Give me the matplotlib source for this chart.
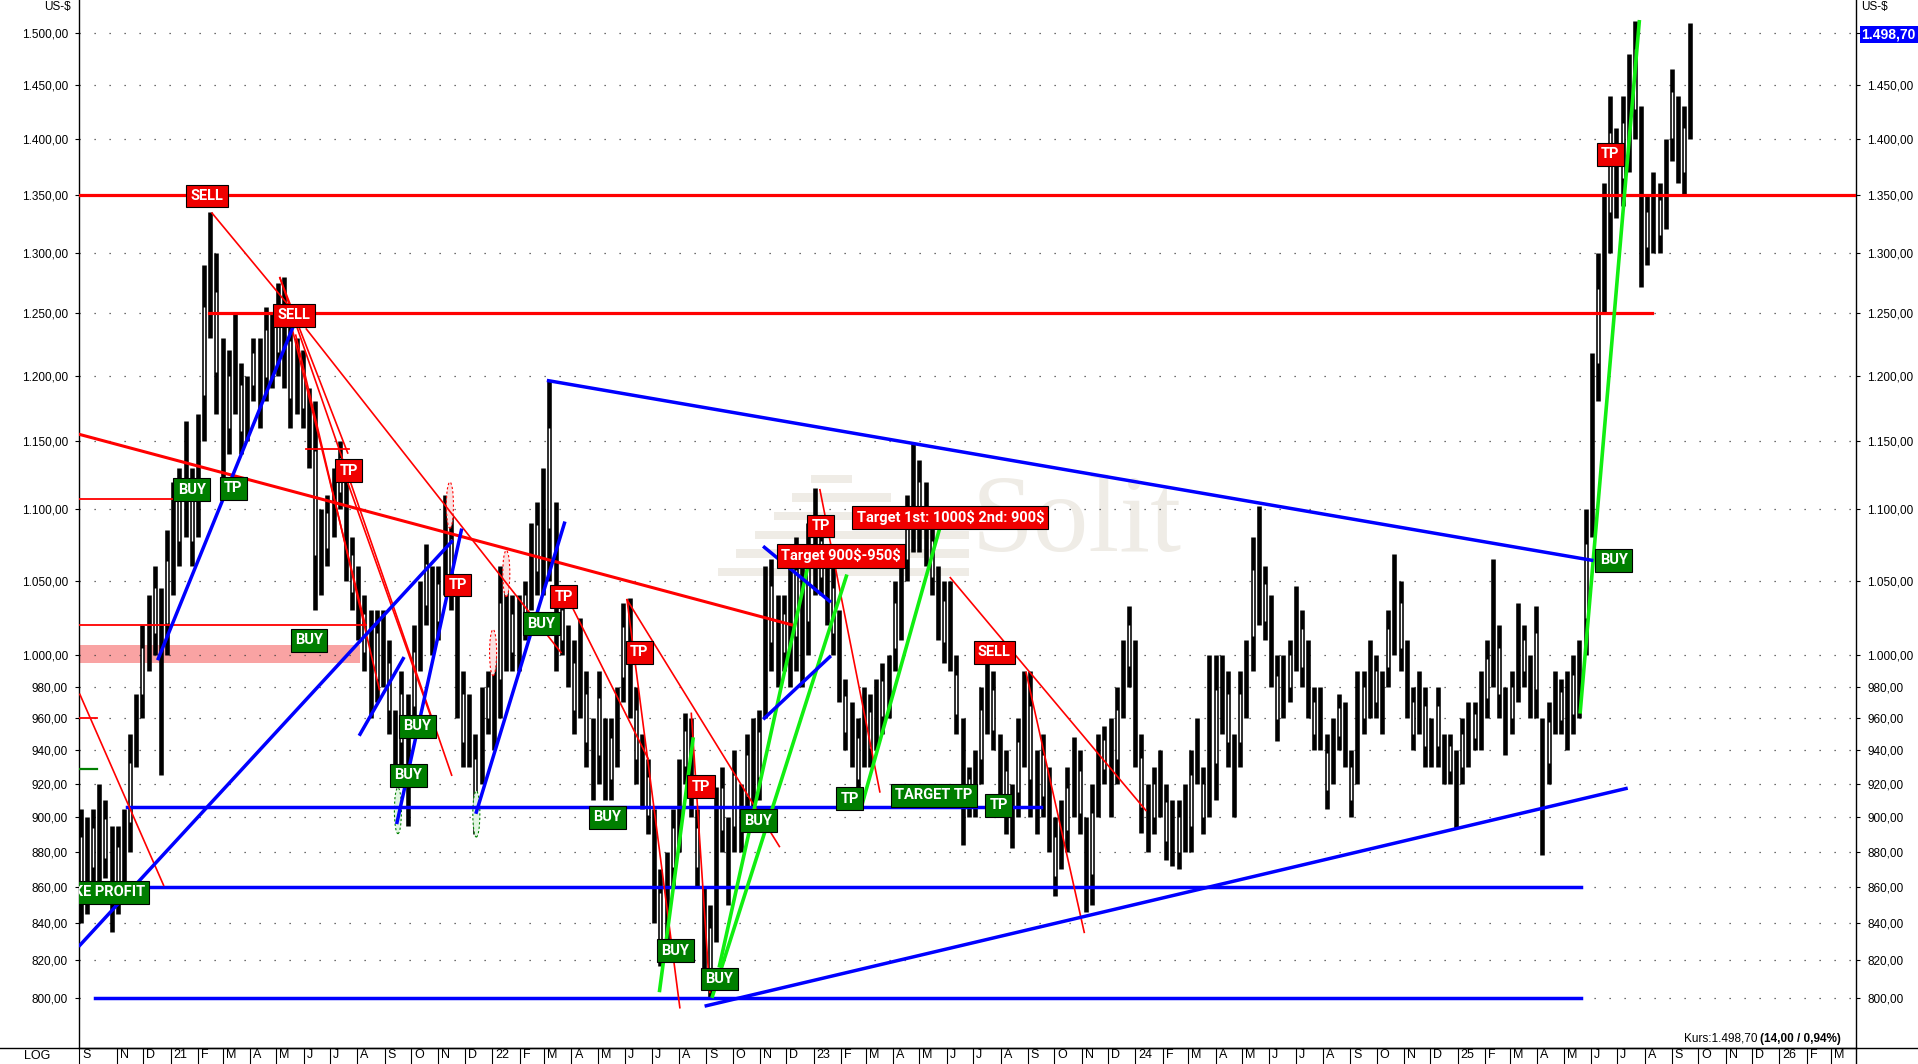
import numpy as np
import pandas as pd
import matplotlib
matplotlib.use("Agg")
import matplotlib.pyplot as plt
from matplotlib.lines import Line2D
from matplotlib.patches import Ellipse
import matplotlib.dates as mdates
from matplotlib.ticker import NullLocator
from matplotlib.transforms import ScaledTranslation

plt.rcParams['font.family'] = ['Liberation Sans', 'DejaVu Sans']

# weekly low / high in US-$, weeks starting Monday 2020-09-21
low_2020 = [840, 845, 860, 860, 865, 835, 845, 860, 880, 930, 960, 990, 1000, 925, 1000]
high_2020 = [905, 900, 905, 920, 910, 895, 895, 905, 950, 975, 1020, 1040, 1060, 1045, 1085]

low_2021 = [1040, 1060, 1080, 1060,
            1080, 1150, 1230, 1170,
            1120, 1140, 1170, 1140, 1150,
            1180, 1160, 1180, 1190,
            1200, 1190, 1160, 1170, 1160,
            1130, 1030, 1040, 1060,
            1080, 1100, 1050, 1030,
            1010, 990, 960, 970, 980,
            950, 920, 930, 895,
            950, 990, 1020, 1000,
            1010, 1040, 1030, 960, 930,
            930, 890, 920, 950]
high_2021 = [1120, 1130, 1165, 1130,
             1170, 1290, 1335, 1300,
             1230, 1220, 1250, 1210, 1200,
             1230, 1230, 1255, 1250,
             1275, 1280, 1250, 1230, 1220,
             1190, 1180, 1100, 1110,
             1130, 1150, 1120, 1080,
             1060, 1040, 1030, 1030, 1030,
             1010, 965, 990, 975,
             1020, 1050, 1075, 1060,
             1060, 1110, 1095, 1040, 990,
             975, 950, 980, 990]

low_2022 = [940, 960, 990, 990, 990,
            1010, 1030, 1040, 1040,
            1050, 990, 1000, 980,
            950, 960, 930, 910,
            920, 910, 910, 930, 970,
            960, 920, 905, 890,
            840, 817, 830, 860,
            880, 920, 900, 860, 810,
            800, 830, 880, 850,
            880, 880, 900, 900, 910,
            960, 990, 980, 990,
            980, 990, 980, 1000]
high_2022 = [1000, 1060, 1050, 1040, 1040,
             1050, 1090, 1105, 1130,
             1196, 1105, 1040, 1020,
             1010, 1025, 990, 960,
             990, 960, 960, 980, 1035,
             1038, 980, 950, 935,
             905, 870, 880, 905,
             935, 963, 960, 905, 860,
             850, 918, 930, 900,
             940, 920, 950, 960, 965,
             1060, 1065, 1040, 1040,
             1060, 1080, 1060, 1090]

low_2023 = [1040, 1040, 1020, 1000, 970,
            940, 930, 910, 930,
            930, 940, 950, 960,
            990, 1010, 1050, 1070,
            1070, 1060, 1040, 1010, 995,
            990, 950, 884, 900,
            900, 920, 950, 940, 900,
            890, 882, 900, 930,
            900, 890, 900, 880,
            855, 870, 880, 900, 890,
            846, 850, 900, 920,
            900, 920, 960, 980]
high_2023 = [1115, 1090, 1070, 1060, 1030,
             985, 970, 960, 980,
             975, 985, 995, 1000,
             1050, 1070, 1110, 1148,
             1136, 1120, 1090, 1060, 1050,
             1050, 1000, 960, 930,
             940, 980, 1000, 990, 950,
             940, 920, 960, 990,
             990, 940, 950, 930,
             900, 910, 930, 948, 940,
             900, 920, 950, 955,
             960, 980, 1010, 1033]

low_2024 = [930, 891, 880, 890, 900,
            875, 872, 870, 880,
            880, 920, 890, 900,
            910, 950, 930, 900, 930,
            960, 990, 1020, 1010,
            980, 946, 960, 970,
            990, 980, 960, 940, 940,
            905, 920, 940, 930,
            900, 920, 950, 960, 960,
            950, 980, 1000, 990,
            960, 940, 950, 930,
            930, 930, 920, 920, 894]
high_2024 = [1010, 950, 920, 930, 940,
             920, 910, 910, 920,
             940, 960, 930, 1000,
             1000, 1000, 990, 950, 990,
             1010, 1080, 1102, 1060,
             1040, 1000, 1000, 1010,
             1046, 1030, 1010, 980, 980,
             950, 960, 975, 970,
             940, 990, 990, 1010, 1000,
             990, 1030, 1068, 1050,
             1010, 980, 990, 980,
             960, 980, 950, 950, 940]

low_2025 = [920, 930, 940, 940,
            960, 980, 960, 937,
            950, 970, 980, 960, 960,
            878, 920, 950, 950,
            940, 950, 960, 1000,
            1080, 1180, 1250, 1300, 1330,
            1340, 1370, 1400, 1271,
            1290, 1300, 1300, 1320,
            1380, 1360, 1350, 1400]
high_2025 = [960, 970, 970, 990,
             1010, 1065, 1020, 980,
             990, 1035, 1020, 1000, 1033,
             960, 970, 990, 985,
             990, 1000, 1010, 1100,
             1218, 1300, 1360, 1440, 1410,
             1440, 1480, 1512, 1430,
             1350, 1370, 1360, 1400,
             1465, 1440, 1430, 1510]

last_close = 1498.70
change_abs = 14.00
change_pct = 0.94

price_ticks = [800, 820, 840, 860, 880, 900, 920, 940, 960, 980, 1000,
               1050, 1100, 1150, 1200, 1250, 1300, 1350, 1400, 1450, 1500]

# horizontal levels: price, from, to
red_thick_levels = [1350, 1250]
red_thick_from = ['2020-09-19', '2021-02-14']
red_thick_to = ['2026-03-29', '2025-08-10']
red_thin_levels = [1107, 1020, 1144, 960]
red_thin_from = ['2020-09-19', '2020-09-19', '2021-06-04', '2020-09-19']
red_thin_to = ['2021-01-05', '2021-08-11', '2021-07-23', '2020-10-09']
blue_levels = [906, 860, 800]
blue_from = ['2020-11-13', '2020-09-19', '2020-10-07']
blue_to = ['2023-09-16', '2025-05-21', '2025-05-21']
green_levels = [929]
green_from = ['2020-09-19']
green_to = ['2020-10-09']
zone_low, zone_high = 995, 1007
zone_to = '2021-08-04'

# trend lines: (date, price) -> (date, price)
blue_trends = [('2022-03-06', 1196, '2025-06-02', 1064),
               ('2022-09-01', 796, '2025-07-11', 917),
               ('2020-09-20', 828, '2021-11-16', 1077),
               ('2020-12-18', 998, '2021-05-19', 1237),
               ('2021-08-04', 950, '2021-09-22', 998),
               ('2021-09-15', 897, '2021-11-27', 1085),
               ('2021-12-14', 903, '2022-03-24', 1090),
               ('2022-11-06', 1073, '2023-01-19', 1036),
               ('2022-11-06', 960, '2023-01-19', 999)]
green_trends = [('2022-07-10', 804, '2022-08-17', 947),
                ('2022-09-16', 817, '2022-12-25', 1059),
                ('2022-09-08', 801, '2023-02-07', 1053),
                ('2023-02-24', 906, '2023-05-26', 1091),
                ('2025-05-20', 964, '2025-07-26', 1511)]
red_thick_trends = [('2020-09-19', 1155, '2022-12-08', 1020)]
red_thin_trends = [('2020-09-20', 975, '2020-12-24', 861),
                   ('2021-02-17', 1334, '2021-05-15', 1256),
                   ('2021-06-04', 1237, '2022-03-20', 1002),
                   ('2021-05-05', 1279, '2021-11-16', 925),
                   ('2021-05-05', 1279, '2021-07-21', 1141),
                   ('2021-05-23', 1232, '2021-08-26', 978),
                   ('2021-05-19', 1237, '2021-08-10', 1020),
                   ('2021-07-20', 1121, '2021-10-24', 960),
                   ('2022-06-03', 1037, '2022-08-02', 795),
                   ('2022-06-03', 1037, '2022-11-23', 883),
                   ('2022-04-01', 1033, '2022-06-27', 935),
                   ('2022-08-15', 963, '2022-09-05', 803),
                   ('2023-01-08', 1114, '2023-03-17', 915),
                   ('2023-06-05', 1052, '2024-01-13', 904),
                   ('2023-08-30', 989, '2023-11-04', 835)]

# signal boxes
green_boxes = [('2021-01-25', 1114, 'BUY'), ('2021-03-13', 1115, 'TP'),
               ('2021-06-07', 1010, 'BUY'), ('2021-10-08', 955, 'BUY'),
               ('2021-09-28', 925, 'BUY'), ('2022-02-26', 1021, 'BUY'),
               ('2022-05-12', 900, 'BUY'), ('2022-07-28', 825, 'BUY'),
               ('2022-09-16', 810, 'BUY'), ('2022-10-30', 898, 'BUY'),
               ('2023-02-11', 911, 'TP'), ('2023-05-17', 913, 'TARGET TP'),
               ('2023-07-30', 907, 'TP'), ('2025-06-27', 1064, 'BUY')]
red_boxes = [('2021-02-11', 1349, 'SELL'), ('2021-05-21', 1248, 'SELL'),
             ('2021-07-22', 1128, 'TP'), ('2021-11-23', 1047, 'TP'),
             ('2022-03-23', 1039, 'TP'), ('2022-06-17', 1002, 'TP'),
             ('2022-08-26', 918, 'TP'), ('2023-01-09', 1088, 'TP'),
             ('2023-02-01', 1067, 'Target 900$-950$'),
             ('2023-06-05', 1094, 'Target 1st: 1000$ 2nd: 900$'),
             ('2023-07-25', 1002, 'SELL'), ('2025-06-23', 1386, 'TP')]
profit_box = ('2020-12-03', 857, 'TAKE PROFIT')

# dashed marker ellipses: date, price, colour
mark_dates = ['2021-11-14', '2022-01-17', '2022-01-02', '2021-09-16', '2021-12-14']
mark_prices = [1103, 1055, 1002, 904, 902]
mark_colors = ['red', 'red', 'red', 'green', 'green']

lows = np.array(low_2020 + low_2021 + low_2022 + low_2023 + low_2024 + low_2025, dtype=float)
highs = np.array(high_2020 + high_2021 + high_2022 + high_2023 + high_2024 + high_2025, dtype=float)
weeks = pd.date_range('2020-09-21', periods=len(lows), freq='W-MON')

x_start, x_end = pd.Timestamp('2020-09-19'), pd.Timestamp('2026-03-29')
RED, BLUE, LIME, DGREEN = '#ff0000', '#0000ff', '#11ee11', '#007f00'


def de_num(v):
    s = f"{v:,.2f}"
    return s.replace(',', 'X').replace('.', ',').replace('X', '.')


def T(d):
    return pd.Timestamp(d)


fig = plt.figure(figsize=(19.18, 10.64), dpi=100)
ax = fig.add_axes([79 / 1918, 16 / 1064, 1777 / 1918, 1048 / 1064])
ax.set_yscale('log')
ax.set_xlim(x_start, x_end)
ax.set_ylim(774.4, 1532.6)

# watermark
ax.text(0.5616, 0.50, 'Solit', transform=ax.transAxes, ha='center', va='center',
        fontsize=80, family=['Liberation Serif', 'DejaVu Serif'], color='#efece6', zorder=0.5)
for i in range(6):
    y0 = 0.547 - i * 0.0178
    xl = 0.412 - i * 0.0105
    xr = 0.435 + min(i, 3) * 0.022
    ax.fill_between([xl, xr], y0 - 0.008, y0, transform=ax.transAxes,
                    color='#efece6', lw=0, zorder=0.5)

# price bars: one stroke per week from low to high, with a thin body outline
ax.vlines(weeks, lows, highs, color='black', lw=3.3, zorder=2)
mid_lo = (lows * 3 + highs) / 4
mid_hi = (lows + highs * 3) / 4
ax.vlines(weeks[::2], mid_lo[::2], mid_hi[::2], color='white', lw=1.0, zorder=2.1)

# zone and horizontal levels
ax.fill_between([x_start, T(zone_to)], zone_low, zone_high, color='#f9a3a3', lw=0, zorder=1.5)
for lv, a, b in zip(red_thick_levels, red_thick_from, red_thick_to):
    ax.plot([T(a), T(b)], [lv, lv], color=RED, lw=2.3, zorder=3)
for lv, a, b in zip(red_thin_levels, red_thin_from, red_thin_to):
    ax.plot([T(a), T(b)], [lv, lv], color=RED, lw=1.3, zorder=3)
for lv, a, b in zip(blue_levels, blue_from, blue_to):
    ax.plot([T(a), T(b)], [lv, lv], color=BLUE, lw=2.5, zorder=3)
for lv, a, b in zip(green_levels, green_from, green_to):
    ax.plot([T(a), T(b)], [lv, lv], color=DGREEN, lw=1.6, zorder=3)

# trend lines
for d1, p1, d2, p2 in red_thin_trends:
    ax.plot([T(d1), T(d2)], [p1, p2], color=RED, lw=1.2, zorder=3)
for d1, p1, d2, p2 in red_thick_trends:
    ax.plot([T(d1), T(d2)], [p1, p2], color=RED, lw=2.2, zorder=3)
for d1, p1, d2, p2 in blue_trends:
    ax.plot([T(d1), T(d2)], [p1, p2], color=BLUE, lw=2.5, zorder=3.2)
for d1, p1, d2, p2 in green_trends:
    ax.plot([T(d1), T(d2)], [p1, p2], color=LIME, lw=2.6, zorder=3.1)

for d, p, c in zip(mark_dates, mark_prices, mark_colors):
    e = Ellipse((mdates.date2num(T(d)), p), width=8, height=p * 0.03, fill=True,
                fc='#fbe0e0' if c == 'red' else '#e0f5e0', ec=c, ls=(0, (2, 2)), lw=0.8, zorder=2.5)
    ax.add_patch(e)


def box(d, p, txt, fc, ha='center', clip=False):
    ax.text(T(d), p, txt, ha=ha, va='center', color='white', fontsize=10.5,
            fontweight='bold', family=['Roboto', 'DejaVu Sans'], zorder=6, clip_on=clip,
            parse_math=False,
            bbox=dict(boxstyle='square,pad=0.3', fc=fc, ec='black', lw=0.8))


for d, p, t in green_boxes:
    box(d, p, t, DGREEN)
for d, p, t in red_boxes:
    box(d, p, t, '#f00000')
box(profit_box[0], profit_box[1], profit_box[2], DGREEN, ha='right', clip=True)

# y axis on both sides
ax.set_yticks(price_ticks, labels=[de_num(v) for v in price_ticks])
ax.yaxis.set_minor_locator(NullLocator())
ax.tick_params(axis='y', which='major', left=True, right=True, labelleft=True, labelright=True,
               labelsize=8.5, length=3, pad=5, direction='out')
ax.grid(axis='y', which='major', color='#404040', lw=0.9, linestyle=(0, (1, 11)))
# the last-price box covers the top label on the right side
for tk, v in zip(ax.yaxis.get_major_ticks(), price_ticks):
    if abs(v - last_close) < 10:
        tk.label2.set_visible(False)

# month row
months = pd.date_range('2020-11-01', '2026-03-01', freq='MS')
ticks = [x_start] + list(months)
labels = ['S'] + [str(m.year)[2:] if m.month == 1 else 'JFMAMJJASOND'[m.month - 1] for m in months]
ax.set_xticks(ticks)
ax.set_xticklabels(labels, ha='left')
ax.xaxis.set_minor_locator(NullLocator())
ax.tick_params(axis='x', length=11.5, width=0.8, pad=-10.5, direction='out', labelsize=9)
shift = ScaledTranslation(3 / 100, 0, fig.dpi_scale_trans)
for lab in ax.get_xticklabels():
    lab.set_transform(lab.get_transform() + shift)

ax.spines['top'].set_visible(False)
for s in ['left', 'right', 'bottom']:
    ax.spines[s].set_linewidth(1.0)

fig.add_artist(Line2D([0, 1], [16 / 1064, 16 / 1064], color='black', lw=1.0, transform=fig.transFigure))
fig.add_artist(Line2D([1856 / 1918, 1856 / 1918], [0, 16 / 1064], color='black', lw=1.0,
                      transform=fig.transFigure))
fig.text(71 / 1918, 1 - 7 / 1064, 'US-$', ha='right', va='center', fontsize=8.5)
fig.text(1861 / 1918, 1 - 7 / 1064, 'US-$', ha='left', va='center', fontsize=8.5)
fig.text(37 / 1918, 8 / 1064, 'LOG', ha='center', va='center', fontsize=9)

# last price marker on the right axis
ax.annotate(de_num(last_close), xy=(1, last_close), xycoords=('axes fraction', 'data'),
            xytext=(4, 0), textcoords='offset points', ha='left', va='center', color='white',
            fontsize=10, fontweight='bold', annotation_clip=False,
            bbox=dict(boxstyle='square,pad=0.12', fc=BLUE, ec='none'))

# quote line bottom right
bold_part = ax.text(0.9916, 0.0086, f"({de_num(change_abs)} / {de_num(change_pct)}%)",
                    transform=ax.transAxes, ha='right', va='center', fontsize=8.5, fontweight='bold')
fig.canvas.draw()
bb = bold_part.get_window_extent()
x_left = ax.transAxes.inverted().transform((bb.x0 - 3, 0))[0]
ax.text(x_left, 0.0086, f"Kurs:{de_num(last_close)}", transform=ax.transAxes,
        ha='right', va='center', fontsize=8.5)

fig.savefig('out.png', dpi=100)
